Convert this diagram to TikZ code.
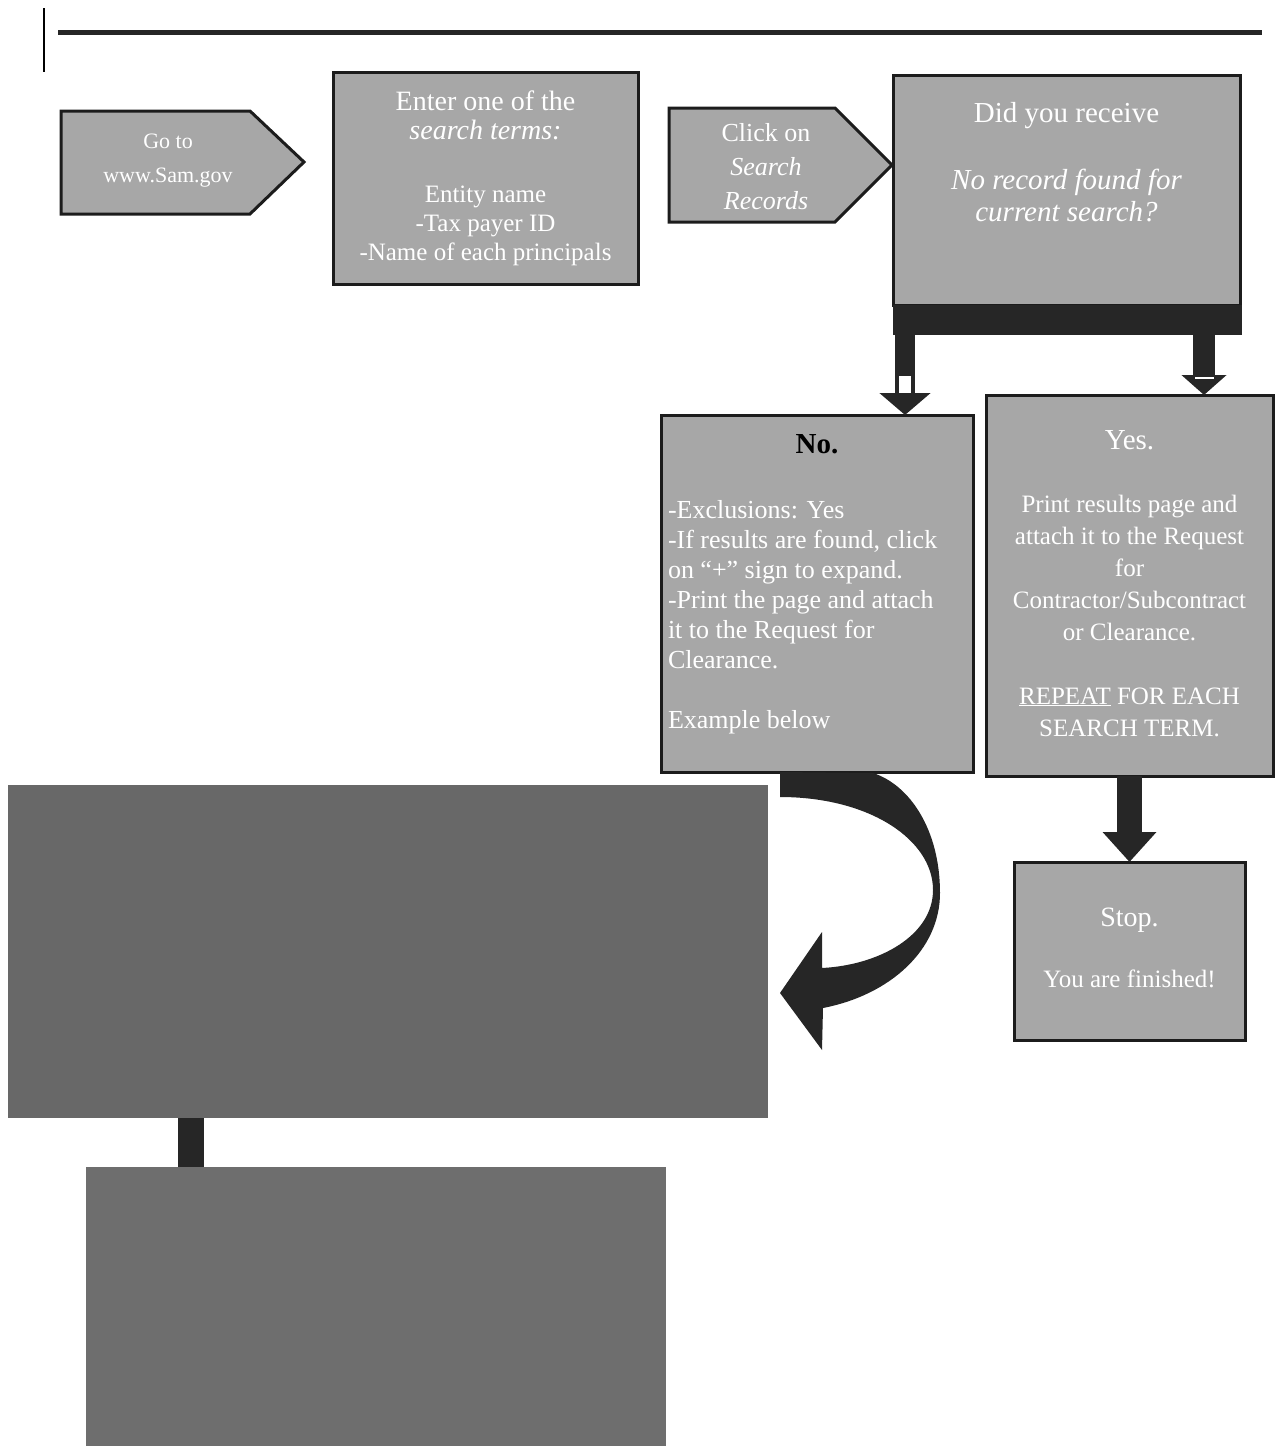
\documentclass[tikz,border=0pt]{standalone}
\usepackage{fontspec}
\setmainfont{Liberation Serif}
\usetikzlibrary{arrows.meta,calc}
\definecolor{boxgray}{HTML}{A7A7A7}
\definecolor{boxline}{HTML}{1C1C1C}
\definecolor{darkfill}{HTML}{262626}
\definecolor{panelA}{HTML}{686868}
\definecolor{panelB}{HTML}{6E6E6E}
\newcommand{\fs}[2]{\fontsize{#1}{#2}\selectfont}
\tikzset{
  box/.style={draw=boxline, line width=3pt, fill=boxgray, inner sep=0pt, outer sep=0pt, text=white},
  pent/.style={draw=boxline, line width=3pt, fill=boxgray, line join=miter},
  txt/.style={text=white, inner sep=0pt, align=center},
  panel/.style={inner sep=0pt, outer sep=0pt},
  fatarrow/.style={draw=darkfill},
}
\begin{document}
\begin{tikzpicture}[x=1pt,y=-1pt]
\useasboundingbox (0,0) rectangle (1275,1448);
% header rules
\draw[line width=2pt, black] (44,8) -- (44,72);
\draw[line width=5pt, color=darkfill] (58,32) -- (1262,32);

% Go to pentagon
\draw[pent] (61,111) -- (250,111) -- (304,162) -- (250,214) -- (61,214) -- cycle;
\node[txt, font=\fs{22}{34}] (goto) at (168,161) {Go to\\www.Sam.gov};

% Enter box
\node[box] (enter) at (485.5,178) {\parbox[c][212pt][t]{305pt}{\centering
  \fs{28}{29}\rule{0pt}{38pt}Enter one of the\\\textit{search terms:}\par
  \vspace{34pt}\fs{25}{29}Entity name\\-Tax payer ID\\-Name of each principals\par}};

% Click pentagon
\draw[pent] (669,108) -- (835,108) -- (892,165) -- (835,222) -- (669,222) -- cycle;
\node[txt, font=\fs{26}{34}] (click) at (766,167) {Click on\\\textit{Search}\\\textit{Records}};

% Did you receive box
\node[box] (did) at (1066.5,190) {\parbox[c][230pt][t]{347pt}{\centering
  \fs{29}{32}\rule{0pt}{47pt}Did you receive\par
  \vspace{35pt}\itshape No record found for\\current search?\par}};
\node[fill=darkfill, inner sep=0pt, outer sep=0pt, minimum width=349pt, minimum height=30pt, anchor=north west] (band) at (893,305) {};

% No box
\node[box] (no) at (817,593.5) {\parbox[c][357pt][t]{312pt}{%
  {\centering\fs{29}{32}\rule{0pt}{38pt}\textcolor{black}{\textbf{No.}}\par}%
  \vspace{35pt}\raggedright\leftskip=7pt\fs{26}{30}%
  -Exclusions: Yes\\-If results are found, click\\on ``+'' sign to expand.\\-Print the page and attach\\it to the Request for\\Clearance.\\[30pt]Example below\par}};

% Yes box
\node[box] (yes) at (1129.5,585.5) {\parbox[c][381pt][t]{287pt}{\centering
  {\fs{29}{32}\rule{0pt}{54pt}Yes.\par}%
  \vspace{31pt}\fs{25}{32}Print results page and\\attach it to the Request\\for\\Contractor/Subcontract\\or Clearance.\\[32pt]\underline{REPEAT} FOR EACH\\SEARCH TERM.\par}};

% Stop box
\node[box] (stop) at (1129.5,951) {\parbox[c][178pt][t]{231pt}{\centering
  {\fs{28}{32}\rule{0pt}{64pt}Stop.\par}%
  \vspace{29pt}\fs{25}{32}You are finished!\par}};

% Dark panels
\node[panel, fill=panelA, minimum width=760pt, minimum height=333pt] (r1) at (388,951.5) {};
\node[panel, fill=panelB, minimum width=580pt, minimum height=279pt] (r2) at (376,1306.5) {};

% Connectors from the decision band
\coordinate (a1) at ([xshift=12pt]band.south west);
\draw[fatarrow, line width=20pt, -{Triangle[length=22pt,width=50pt]}] (a1) -- (a1 |- no.north);
\fill[white] (899,376) rectangle (911,393);
\coordinate (a2) at ([xshift=-38pt]band.south east);
\draw[fatarrow, line width=22pt, -{Triangle[length=20pt,width=44pt]}] (a2) -- (a2 |- yes.north);
\draw[white, line width=2pt] (1195,378) -- (1214,378);

% Yes -> Stop
\draw[fatarrow, line width=25pt, -{Triangle[length=30pt,width=52pt]}] (yes.south) -- (stop.north);

% No -> panel (curved arrow)
\coordinate (c0) at ([xshift=-37pt]no.south);
\fill[darkfill] (c0) -- (873,773) .. controls (910,785) and (940,830) .. (940,893)
  .. controls (940,950) and (890,995) .. (823,1008) -- (822,1050) -- (780,993) -- (822,932)
  -- (822,968) .. controls (880,965) and (933,935) .. (933,890)
  .. controls (933,840) and (870,797) .. (780,797) -- cycle;

% panel -> panel bar
\coordinate (b1) at ([xshift=183pt]r1.south west);
\draw[darkfill, line width=26pt] (b1) -- (b1 |- r2.north);
\end{tikzpicture}
\end{document}
